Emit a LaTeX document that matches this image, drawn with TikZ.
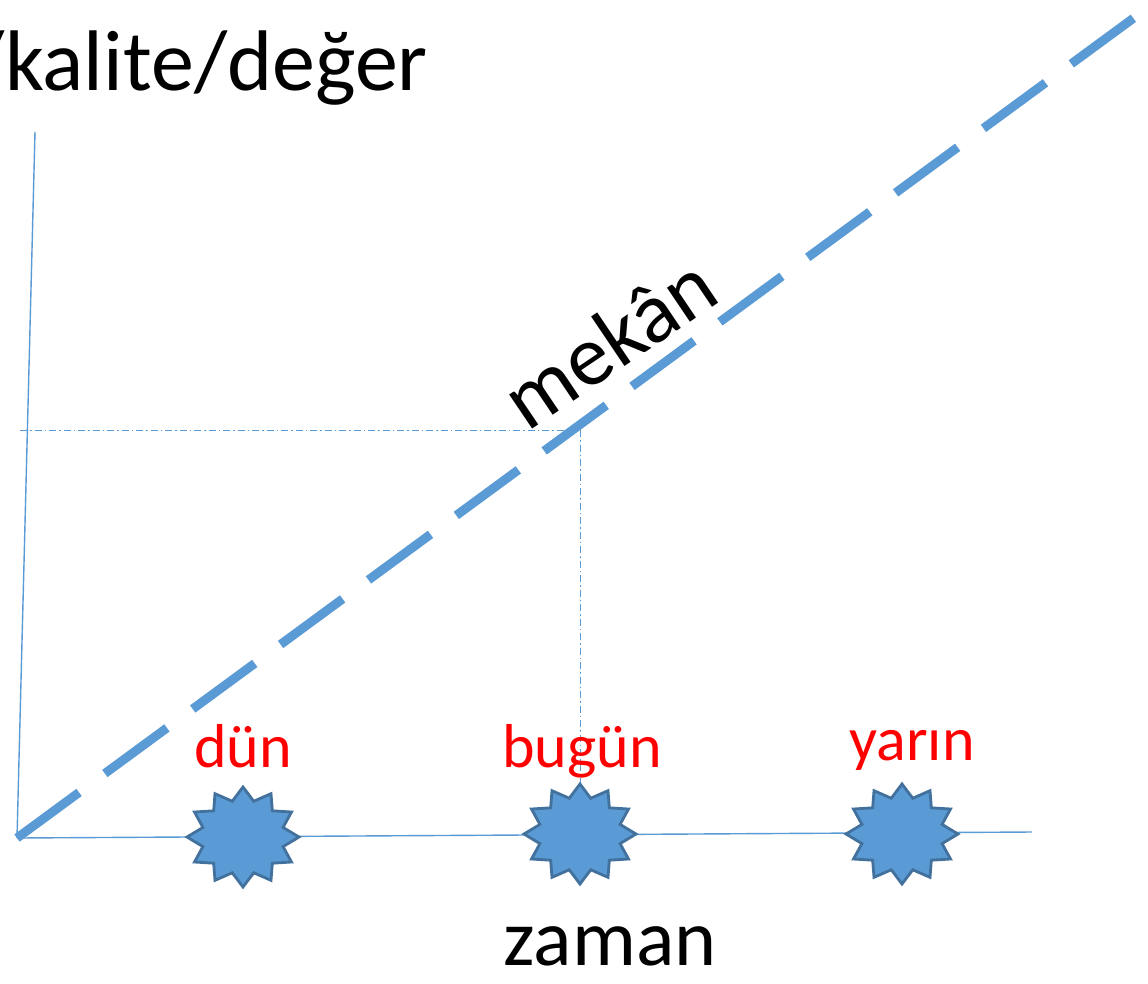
\documentclass[tikz,border=0pt]{standalone}
\usepackage{fontspec}
\setmainfont{Carlito}
\usetikzlibrary{shapes.geometric}
\definecolor{axisblue}{HTML}{5B9BD5}
\definecolor{staredge}{HTML}{41719C}
\definecolor{labred}{HTML}{FF0000}
\tikzset{
  axisline/.style={draw=axisblue, line width=1.4pt},
  guide/.style={draw=axisblue, line width=1pt, dash pattern=on 7pt off 3pt on 1.5pt off 3pt},
  trend/.style={draw=axisblue, line width=9pt, dash pattern=on 77pt off 32pt},
  event/.style={star, star points=12, star point ratio=1.35, minimum size=100pt, inner sep=0pt,
    fill=axisblue, draw=staredge, line width=2.8pt, xscale=1.12},
  daylabel/.style={text=labred, inner sep=0pt, font=\fontsize{62}{62}\selectfont, anchor=base},
  biglabel/.style={inner sep=0pt, font=\fontsize{86}{86}\selectfont},
}
\begin{document}
\begin{tikzpicture}[x=1pt, y=-1pt]
\useasboundingbox (0,0) rectangle (1148,983);
\clip (0,0) rectangle (1148,983);
\fill[white] (0,0) rectangle (1148,983);
% axes
\coordinate (o) at (17,838);
\coordinate (ytop) at (35,132);
\coordinate (xend) at (1032,832);
\coordinate (tend) at (1180,-16);
\coordinate (p) at (580,430);
\coordinate (pl) at (20,430);
\draw[axisline] (o) -- (ytop);
\draw[axisline] (o) -- (xend);
% guides
\draw[guide] (pl) -- (p);
\coordinate (pb) at (580,790);
\draw[guide] (p) -- (pb);
% trend line
\draw[trend] (o) -- (tend);
% stars
\node[event] (s1) at (243,837) {};
\node[event] (s2) at (580,834) {};
\node[event] (s3) at (902,834) {};
% labels
\node[daylabel] (l1) at (243,767) {dün};
\node[daylabel] (l2) at (582,767) {bugün};
\node[daylabel] (l3) at (912,760) {yarın};
\node[biglabel, anchor=base east] (title) at (428,90) {/kalite/değer};
\node[biglabel, anchor=base, font=\fontsize{80}{80}\selectfont] (zaman) at (610,965) {zaman};
\node[biglabel, rotate=34] (mekan) at (609,342) {mekân};
\end{tikzpicture}
\end{document}
